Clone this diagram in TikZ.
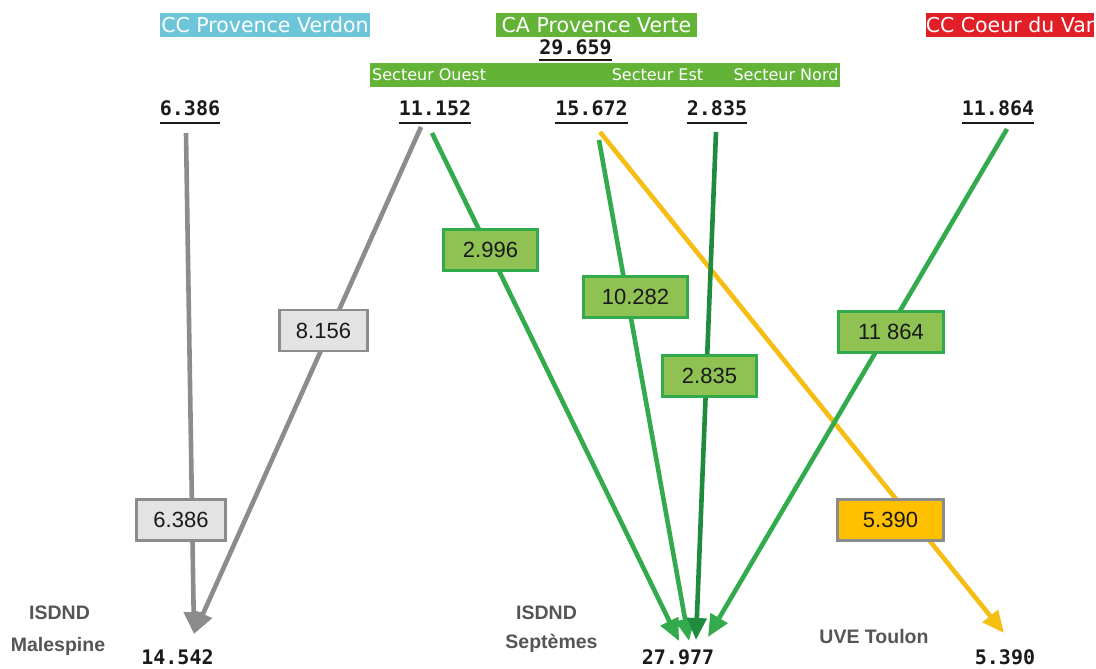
\documentclass[tikz,border=0pt]{standalone}
\usepackage{fontspec}
\setmainfont{DejaVu Sans}
\newfontfamily\hdrfont{DejaVu Sans}
\newfontfamily\numfont{DejaVu Sans Mono}
\newfontfamily\arialfont{Liberation Sans}
\usetikzlibrary{arrows.meta}
\definecolor{cpvblue}{HTML}{6CC5D9}
\definecolor{pvgreen}{HTML}{62B336}
\definecolor{cdvred}{HTML}{E21E26}
\definecolor{arrgray}{HTML}{8C8C8C}
\definecolor{boxgray}{HTML}{E3E3E3}
\definecolor{arrgreen}{HTML}{33AB4C}
\definecolor{darkgreen}{HTML}{1E8C3C}
\definecolor{boxgreen}{HTML}{8FC153}
\definecolor{arryellow}{HTML}{F6BE12}
\definecolor{boxyellow}{HTML}{FFC000}
\definecolor{labgray}{HTML}{555555}
\definecolor{numblack}{HTML}{1A1A1A}
\begin{document}
\begin{tikzpicture}[x=1pt,y=-1pt,
 hdr/.style={inner sep=0pt, minimum height=24pt, text=white, font=\hdrfont\fontsize{20.5}{20.5}\selectfont},
 sect/.style={inner sep=0pt, text=white, font=\hdrfont\fontsize{16}{16}\selectfont},
 num/.style={inner sep=0pt, anchor=base, text=numblack, font=\numfont\bfseries\fontsize{20}{20}\selectfont},
 uline/.style={line width=2pt, numblack},
 flow/.style={line width=4.6pt, -{Triangle[length=22pt,width=19pt]}},
 qty/.style={draw, line width=3pt, inner sep=0pt, minimum height=41pt, text=numblack, font=\arialfont\fontsize{22}{22}\selectfont},
 graybox/.style={qty, draw=arrgray, fill=boxgray, line width=2.5pt},
 greenbox/.style={qty, draw=arrgreen, fill=boxgreen},
 yellowbox/.style={qty, draw=arrgray, fill=boxyellow, line width=2.5pt},
 site/.style={inner sep=0pt, text=labgray, font=\arialfont\bfseries\fontsize{19.5}{19.5}\selectfont}
]
\useasboundingbox[fill=white] (0,0) rectangle (1096,669);

% headers
\node[hdr, fill=cpvblue, minimum width=210pt] (hv) at (265,25) {CC Provence Verdon};
\node[hdr, fill=pvgreen, minimum width=201pt] (hg) at (596.5,25) {CA Provence Verte};
\node[hdr, fill=cdvred, minimum width=168pt] (hr) at (1010,25) {CC Coeur du Var};
\node[num] (ntot) at (575.5,55) {29.659};
\node[fill=pvgreen, inner sep=0pt, minimum width=470pt, minimum height=24pt] (bar) at (605,75) {};
\node[sect, anchor=west] (so) at (372,75) {Secteur Ouest};
\node[sect] (se) at (657.5,75) {Secteur Est};
\node[sect] (sn) at (786,75) {Secteur Nord};

% source quantities
\node[num] (n1) at (190,115.5) {6.386};
\node[num] (n2) at (435,115.5) {11.152};
\node[num] (n3) at (591.5,115.5) {15.672};
\node[num] (n4) at (717,115.5) {2.835};
\node[num] (n5) at (998,115.5) {11.864};
\foreach \n/\d in {ntot/5.5,n1/7,n2/7,n3/7,n4/7,n5/7}
  \draw[uline] ([yshift=-\d pt]\n.base west) -- ([yshift=-\d pt]\n.base east);

% destinations
\node[site] (isd1) at (59.5,613) {ISDND};
\node[site] (mal) at (58,646) {Malespine};
\node[site] (isd2) at (546.5,613) {ISDND};
\node[site] (sep) at (551.5,643) {Septèmes};
\node[site] (uve) at (874,637) {UVE Toulon};
\node[num] (d1) at (177.5,664) {14.542};
\node[num] (d2) at (678,664) {27.977};
\node[num] (d3) at (1005,664) {5.390};

% arrow ends
\coordinate (s1) at (186,133);
\coordinate (s2) at (421,127);
\coordinate (s3) at (432,133);
\coordinate (s4) at (599,140);
\coordinate (s5) at (600,132);
\coordinate (s6) at (716,132);
\coordinate (s7) at (1007,129);
\coordinate (e1) at (194,634);
\coordinate (e2) at (194,634);
\coordinate (e3) at (679,641);
\coordinate (e4) at (689,641);
\coordinate (e5) at (1004,633);
\coordinate (e6) at (696,640);
\coordinate (e7) at (708,637);

\draw[flow, arrgreen] (s4) -- (e4);
\draw[flow, arryellow] (s5) -- (e5);
\draw[flow, darkgreen] (s6) -- (e6);
\draw[flow, arrgreen] (s7) -- (e7);
\draw[flow, arrgreen] (s3) -- (e3);
\draw[flow, arrgray] (s1) -- (e1);
\draw[flow, arrgray] (s2) -- (e2);

% quantity boxes
\node[graybox, minimum width=89pt] (q1) at (181,520) {6.386};
\node[graybox, minimum width=88pt] (q2) at (323.5,330.5) {8.156};
\node[greenbox, minimum width=94pt] (q3) at (490.5,250) {2.996};
\node[greenbox, minimum width=104pt] (q4) at (635.5,296.5) {10.282};
\node[greenbox, minimum width=94pt] (q5) at (709.5,376) {2.835};
\node[greenbox, minimum width=105pt] (q6) at (891,332) {11 864};
\node[yellowbox, minimum width=106pt] (q7) at (890.5,520) {5.390};
\end{tikzpicture}
\end{document}
